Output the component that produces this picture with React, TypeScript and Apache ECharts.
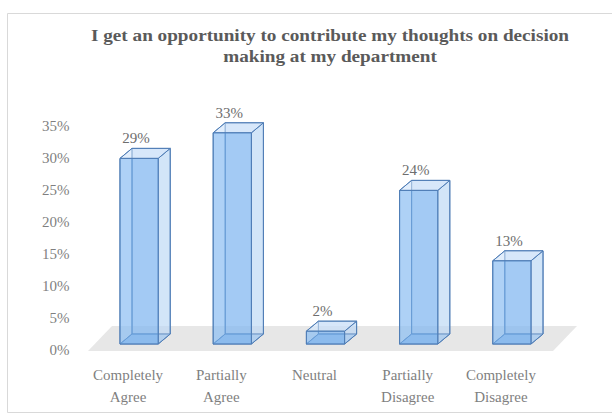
import React, { useEffect, useRef } from "react";
import * as echarts from "echarts";

const titleLines = [
  "I get an opportunity to contribute my thoughts on decision",
  "making at my department",
];
const categories = [
  "Completely\nAgree",
  "Partially\nAgree",
  "Neutral",
  "Partially\nDisagree",
  "Completely\nDisagree",
];
const values = [29, 33, 2, 24, 13];
const yMin = 0;
const yMax = 35;
const yStep = 5;

const SERIF = "'Liberation Serif', 'Times New Roman', serif";

export default function App() {
  const ref = useRef<HTMLDivElement>(null);
  useEffect(() => {
    if (!ref.current) return;
    const chart = echarts.init(ref.current, null, { renderer: "svg" });
    const dx = 12;
    const dy = 10;
    const lift = 6;
    const edge = "#4f7db6";
    const option = {
      animation: false,
      backgroundColor: "#ffffff",
      graphic: [
        {
          type: "rect",
          shape: { x: 7.5, y: 13.5, width: 610, height: 399 },
          style: { fill: "none", stroke: "#d9d9d9", lineWidth: 1 },
          silent: true,
        },
        {
          type: "text",
          x: 330,
          y: 25,
          scaleX: 1.2,
          style: {
            text: titleLines.join("\n"),
            textAlign: "center",
            textVerticalAlign: "top",
            fontFamily: SERIF,
            fontWeight: "bold",
            fontSize: 16,
            lineHeight: 21,
            fill: "#5a5a5a",
          },
        },
      ],
      grid: { left: 92.5, right: 53.5, top: 126, bottom: 66 },
      xAxis: {
        type: "category",
        data: categories,
        axisLine: { show: false },
        axisTick: { show: false },
        axisLabel: {
          interval: 0,
          margin: 14,
          padding: [0, 22, 0, 0],
          fontFamily: SERIF,
          fontSize: 15,
          lineHeight: 22,
          color: "#7f7f7f",
        },
      },
      yAxis: {
        type: "value",
        min: yMin,
        max: yMax,
        interval: yStep,
        axisLine: { show: false },
        axisTick: { show: false },
        splitLine: { show: false },
        axisLabel: {
          margin: 23,
          formatter: (v: number) => `${v}%`,
          fontFamily: SERIF,
          fontSize: 15,
          color: "#7f7f7f",
        },
      },
      series: [
        {
          type: "custom",
          z: 1,
          data: [[0, 0]],
          encode: { x: 0, y: 1 },
          silent: true,
          renderItem: (params: any) => {
            const cs = params.coordSys;
            const fy = cs.y + cs.height + 1;
            const lx = cs.x - 4.5;
            const rx = cs.x + cs.width - 5.5;
            return {
              type: "polygon",
              shape: {
                points: [
                  [lx, fy],
                  [rx, fy],
                  [rx + 24, fy - 25],
                  [lx + 24, fy - 25],
                ],
              },
              style: { fill: "#e7e7e7", stroke: "none" },
            };
          },
        },
        {
          type: "custom",
          z: 2,
          data: values.map((v, i) => [i, v]),
          encode: { x: 0, y: 1 },
          renderItem: (params: any, api: any) => {
            const idx = api.value(0);
            const val = api.value(1);
            const base = api.coord([idx, 0]);
            const top = api.coord([idx, val]);
            const band = api.size([1, 0])[0];
            const w = band * 0.41;
            const x0 = base[0] - w / 2;
            const x1 = base[0] + w / 2;
            const yb = base[1] - lift;
            const yt = top[1] - lift;
            const face = (pts: number[][], fill: string) => ({
              type: "polygon",
              shape: { points: pts },
              style: { fill, stroke: edge, lineWidth: 1, lineJoin: "round" },
            });
            return {
              type: "group",
              children: [
                face(
                  [
                    [x0 + dx, yt - dy],
                    [x1 + dx, yt - dy],
                    [x1 + dx, yb - dy],
                    [x0 + dx, yb - dy],
                  ],
                  "rgba(150,192,240,0.45)"
                ),
                face(
                  [
                    [x0, yt],
                    [x0 + dx, yt - dy],
                    [x0 + dx, yb - dy],
                    [x0, yb],
                  ],
                  "rgba(190,218,248,0.35)"
                ),
                face(
                  [
                    [x0, yb],
                    [x1, yb],
                    [x1 + dx, yb - dy],
                    [x0 + dx, yb - dy],
                  ],
                  "rgba(110,170,235,0.6)"
                ),
                face(
                  [
                    [x1, yt],
                    [x1 + dx, yt - dy],
                    [x1 + dx, yb - dy],
                    [x1, yb],
                  ],
                  "rgba(215,232,250,0.35)"
                ),
                face(
                  [
                    [x0, yt],
                    [x1, yt],
                    [x1 + dx, yt - dy],
                    [x0 + dx, yt - dy],
                  ],
                  "rgba(220,235,252,0.55)"
                ),
                face(
                  [
                    [x0, yt],
                    [x1, yt],
                    [x1, yb],
                    [x0, yb],
                  ],
                  "rgba(125,182,240,0.55)"
                ),
                {
                  type: "text",
                  x: base[0] - 3,
                  y: yt - 20,
                  style: {
                    text: `${val}%`,
                    textAlign: "center",
                    textVerticalAlign: "middle",
                    fontFamily: SERIF,
                    fontSize: 15,
                    fill: "#6e6e6e",
                  },
                },
              ],
            };
          },
        },
      ],
    };
    chart.setOption(option as any);
    return () => chart.dispose();
  }, []);
  return (
    <div
      ref={ref}
      style={{ position: "fixed", left: 0, top: 0, width: 612, height: 416 }}
    />
  );
}
